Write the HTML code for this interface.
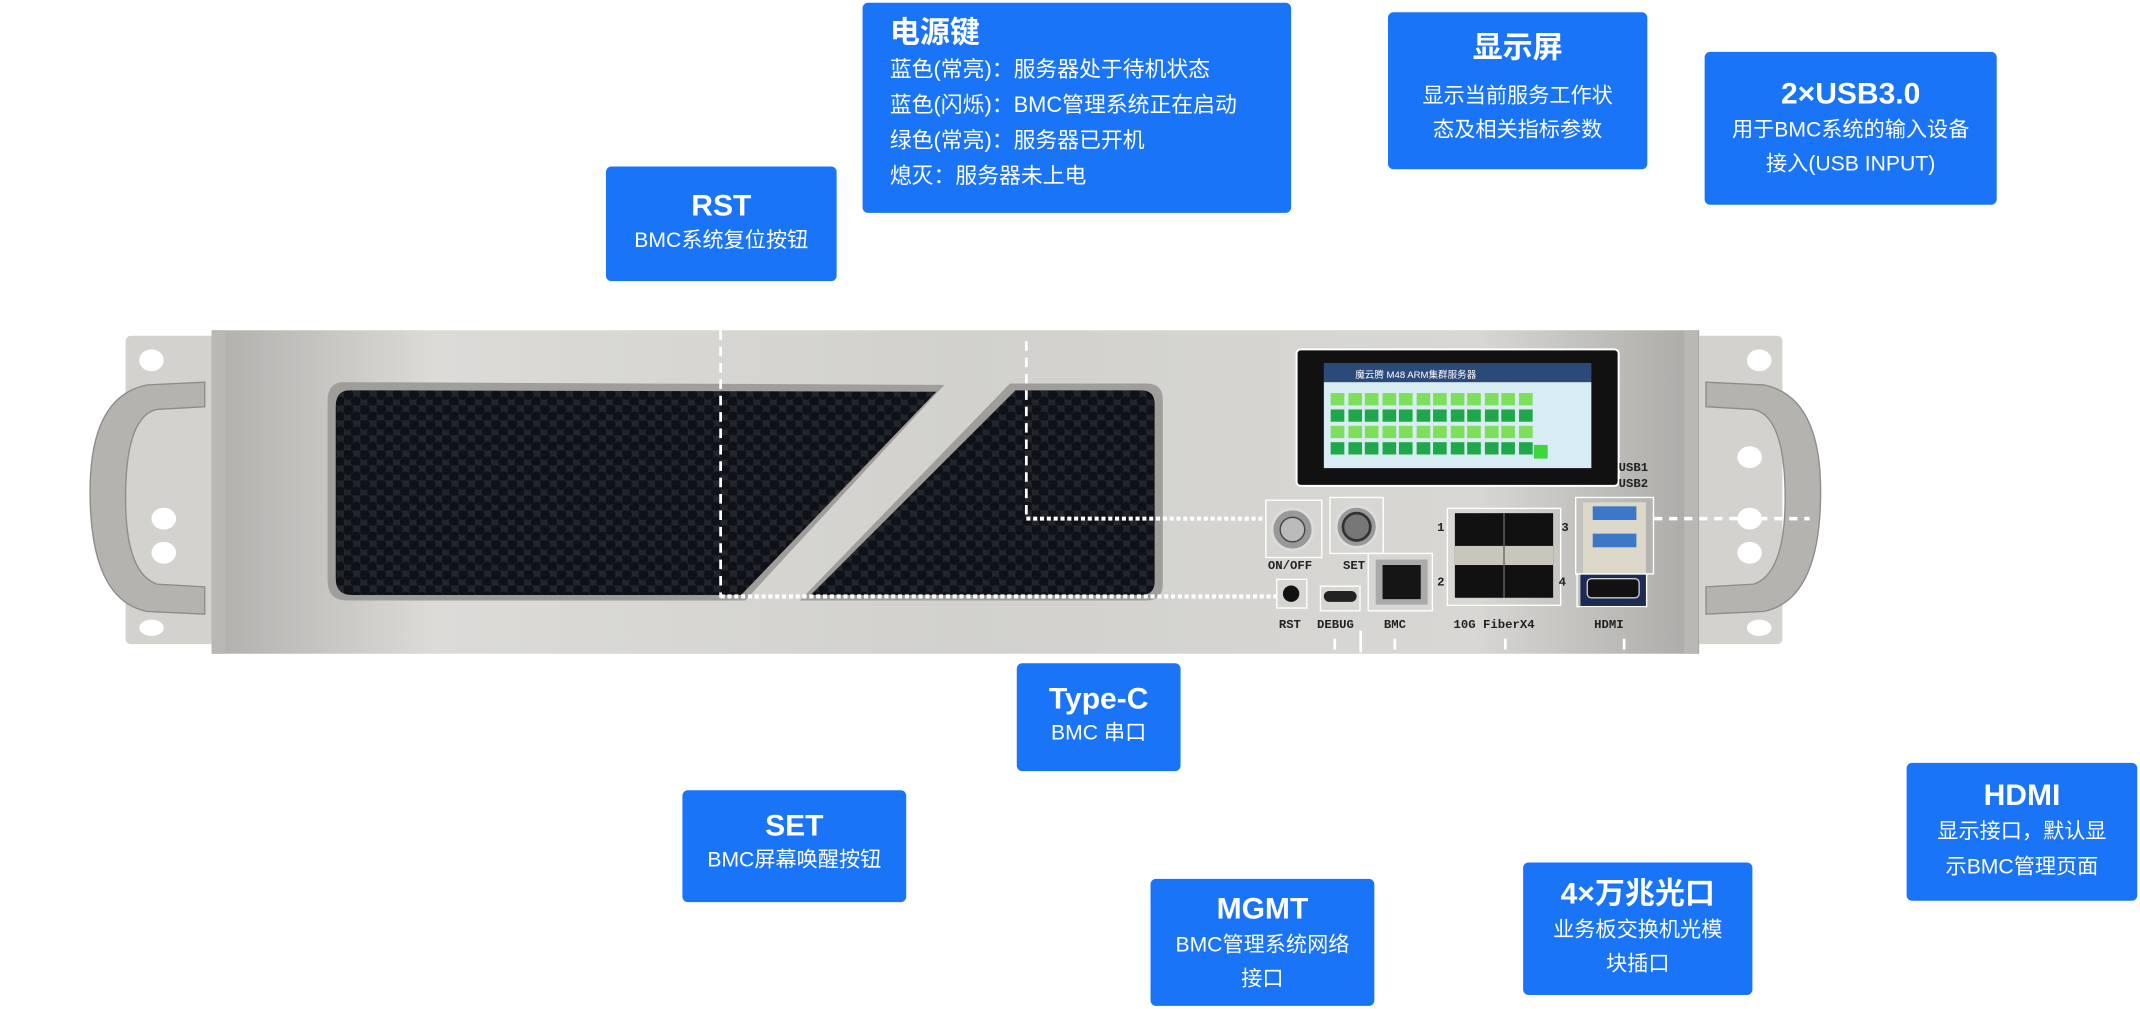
<!DOCTYPE html>
<html><head><meta charset="utf-8">
<style>
html,body{margin:0;padding:0;background:#fff;overflow:hidden;}
#root{position:absolute;left:0;top:0;width:1568px;height:739px;transform:scale(1.3648);transform-origin:0 0;font-family:"Liberation Sans","Noto Sans CJK SC",sans-serif;}
.b{position:absolute;background:#1a74f7;border-radius:4px;color:#fff;text-align:center;box-sizing:border-box;}
.b .t{font-weight:bold;font-size:22px;line-height:28px;}
.b .s{font-size:15.5px;line-height:23px;}
.a{position:absolute;}
.lbl{position:absolute;font-size:9px;color:#222;font-weight:bold;font-family:"Liberation Mono",monospace;}
.wb{position:absolute;border:1.5px solid #fff;box-sizing:border-box;}
</style></head><body><div id="root">

<svg class="a" style="left:0;top:0" width="1568" height="739">
<defs>
<linearGradient id="met" x1="0" x2="1" y1="0" y2="0">
<stop offset="0" stop-color="#b0afac"/><stop offset="0.15" stop-color="#dcdbd8"/><stop offset="0.5" stop-color="#d2d1cd"/><stop offset="0.85" stop-color="#d8d7d3"/><stop offset="1" stop-color="#abaaa7"/></linearGradient>
<pattern id="hex" width="12" height="11" patternUnits="userSpaceOnUse">
<rect width="12" height="11" fill="#22252c"/><circle cx="3" cy="3" r="4" fill="#0f1118"/><circle cx="9" cy="8.5" r="4" fill="#0f1118"/></pattern>
</defs>
<rect x="92" y="246" width="68" height="226" rx="4" fill="#d3d2cf"/>
<rect x="1238" y="246" width="68" height="226" rx="4" fill="#d3d2cf"/>
<ellipse cx="111" cy="264" rx="9" ry="8" fill="#fff"/><ellipse cx="1289" cy="264" rx="9" ry="8" fill="#fff"/>
<ellipse cx="111" cy="460" rx="9" ry="6" fill="#fff"/><ellipse cx="1289" cy="460" rx="9" ry="6" fill="#fff"/>
<rect x="155" y="242" width="1090" height="237" fill="url(#met)"/>
<rect x="155" y="242" width="10" height="237" fill="#b9b8b5"/>
<rect x="1234" y="242" width="10" height="237" fill="#b9b8b5"/>
<path d="M150 280 L108 282 Q66 290 66 360 Q66 440 108 448 L150 450 L150 430 L115 428 Q92 420 92 365 Q92 305 115 300 L150 298 Z" fill="#b4b3b0" stroke="#8d8c89"/>
<path d="M1250 280 L1292 282 Q1334 290 1334 360 Q1334 440 1292 448 L1250 450 L1250 430 L1285 428 Q1308 420 1308 365 Q1308 305 1285 300 L1250 298 Z" fill="#b4b3b0" stroke="#8d8c89"/>
<ellipse cx="120" cy="380" rx="9" ry="8" fill="#fff"/><ellipse cx="120" cy="405" rx="9" ry="8" fill="#fff"/>
<ellipse cx="1282" cy="335" rx="9" ry="8" fill="#fff"/><ellipse cx="1282" cy="380" rx="9" ry="8" fill="#fff"/><ellipse cx="1282" cy="405" rx="9" ry="8" fill="#fff"/>
<path d="M252 280 L692 282 L546 440 L254 440 Q240 440 240 425 L240 294 Q240 280 252 280Z" fill="#9f9e9b"/>
<path d="M256 286 L686 287 L543 436 L258 436 Q246 436 246 424 L246 298 Q246 286 256 286Z" fill="url(#hex)"/>
<path d="M740 281 L840 281 Q852 281 852 293 L852 428 Q852 440 840 440 L586 440 Z" fill="#9f9e9b"/>
<path d="M744 286 L836 286 Q846 286 846 296 L846 426 Q846 436 836 436 L594 436 Z" fill="url(#hex)"/>
<rect x="950" y="256" width="236" height="100" rx="3" fill="#111" stroke="#fff" stroke-width="1.5"/>
<rect x="970" y="266" width="196" height="14" fill="#2b4a7a"/>
<rect x="970" y="280" width="196" height="63" fill="#d8ecf4"/>
<g stroke="#fff" stroke-width="2" fill="none">
<path d="M528 242 V438" stroke-dasharray="7 5"/>
<path d="M752 250 V380" stroke-dasharray="7 5"/>
<path d="M528 437 H935" stroke-dasharray="3 2" stroke-width="3"/>
<path d="M752 380 H925" stroke-dasharray="3 2" stroke-width="3"/>
<path d="M1212 380 H1326" stroke-dasharray="6 5" stroke-width="2.5"/>
<path d="M978 468 V476 M997 462 V478 M1022 468 V476 M1103 468 V476 M1190 468 V476"/>
</g>
<circle cx="947" cy="388" r="15" fill="#999" stroke="#ddd" stroke-width="2"/><circle cx="947" cy="388" r="9" fill="#bbb" stroke="#444"/>
<circle cx="994" cy="386" r="15" fill="#999" stroke="#ddd" stroke-width="2"/><circle cx="994" cy="386" r="10" fill="#777" stroke="#333" stroke-width="2"/>
<circle cx="946" cy="435" r="6" fill="#111"/>
<rect x="970" y="433" width="24" height="8" rx="4" fill="#222"/>
<rect x="1008" y="410" width="38" height="33" fill="#aaa"/><rect x="1013" y="414" width="28" height="25" fill="#151515"/>
<rect x="1066" y="376" width="72" height="62" fill="#111"/><rect x="1066" y="400" width="72" height="14" fill="#c9c6bb"/><path d="M1102 376 V438" stroke="#666"/>
<rect x="1160" y="368" width="46" height="52" fill="#dcd8ca"/><rect x="1167" y="371" width="32" height="10" fill="#3d78c8"/><rect x="1167" y="391" width="32" height="10" fill="#3d78c8"/>
<rect x="1158" y="420" width="48" height="25" fill="#1c2b55"/><rect x="1163" y="424" width="38" height="14" rx="3" fill="#111" stroke="#ccc"/>
</svg>

<div class="wb" style="left:927px;top:366px;width:42px;height:43px"></div>
<div class="wb" style="left:974px;top:364px;width:40px;height:42px"></div>
<div class="wb" style="left:935px;top:424px;width:23px;height:22px"></div>
<div class="wb" style="left:967px;top:429px;width:30px;height:19px"></div>
<div class="wb" style="left:1002px;top:405px;width:48px;height:43px"></div>
<div class="wb" style="left:1060px;top:372px;width:84px;height:72px"></div>
<div class="wb" style="left:1154px;top:364px;width:58px;height:57px"></div>
<div class="wb" style="left:1155px;top:420px;width:52px;height:25px"></div>
<div class="lbl" style="left:929px;top:410px">ON/OFF</div>
<div class="lbl" style="left:984px;top:410px">SET</div>
<div class="lbl" style="left:937px;top:453px">RST</div>
<div class="lbl" style="left:965px;top:453px">DEBUG</div>
<div class="lbl" style="left:1014px;top:453px">BMC</div>
<div class="lbl" style="left:1065px;top:453px">10G FiberX4</div>
<div class="lbl" style="left:1168px;top:453px">HDMI</div>
<div class="lbl" style="left:1186px;top:337px;line-height:12px">USB1<br>USB2</div>
<div class="lbl" style="left:1053px;top:382px">1</div><div class="lbl" style="left:1053px;top:422px">2</div>
<div class="lbl" style="left:1144px;top:382px">3</div><div class="lbl" style="left:1142px;top:422px">4</div>

<div class="b" style="left:632px;top:2px;width:314px;height:154px;text-align:left;padding:7px 0 0 20px"><div class="t" style="font-size:22px;line-height:30px">电源键</div><div class="s" style="font-size:16px;line-height:26px">蓝色(常亮)：服务器处于待机状态<br>蓝色(闪烁)：BMC管理系统正在启动<br>绿色(常亮)：服务器已开机<br>熄灭：服务器未上电</div></div>
<div class="b" style="left:444px;top:122px;width:169px;height:84px;padding-top:15px"><div class="t">RST</div><div class="s">BMC系统复位按钮</div></div>
<div class="b" style="left:1017px;top:9px;width:190px;height:115px;padding-top:12px"><div class="t">显示屏</div><div class="s" style="margin-top:9px;line-height:25px">显示当前服务工作状<br>态及相关指标参数</div></div>
<div class="b" style="left:1249px;top:38px;width:214px;height:112px;padding-top:17px"><div class="t">2×USB3.0</div><div class="s" style="line-height:25px">用于BMC系统的输入设备<br>接入(USB INPUT)</div></div>
<div class="b" style="left:745px;top:486px;width:120px;height:79px;padding-top:12px"><div class="t">Type-C</div><div class="s">BMC 串口</div></div>
<div class="b" style="left:500px;top:579px;width:164px;height:82px;padding-top:12px"><div class="t">SET</div><div class="s">BMC屏幕唤醒按钮</div></div>
<div class="b" style="left:843px;top:644px;width:164px;height:93px;padding-top:8px"><div class="t">MGMT</div><div class="s" style="line-height:25px">BMC管理系统网络<br>接口</div></div>
<div class="b" style="left:1116px;top:632px;width:168px;height:97px;padding-top:9px"><div class="t">4×万兆光口</div><div class="s" style="line-height:25px">业务板交换机光模<br>块插口</div></div>
<div class="b" style="left:1397px;top:559px;width:169px;height:101px;padding-top:10px"><div class="t">HDMI</div><div class="s" style="line-height:26px">显示接口，默认显<br>示BMC管理页面</div></div>

<div class="a" style="left:993px;top:270px;font-size:7px;color:#fff">魔云腾 M48 ARM集群服务器</div>
<div class="a" style="left:975px;top:288px;width:150px;display:grid;grid-template-columns:repeat(12,10px);gap:3px 2.5px">
<i style="height:9px;background:#7ee05a"></i><i style="height:9px;background:#7ee05a"></i><i style="height:9px;background:#7ee05a"></i><i style="height:9px;background:#7ee05a"></i><i style="height:9px;background:#7ee05a"></i><i style="height:9px;background:#7ee05a"></i><i style="height:9px;background:#7ee05a"></i><i style="height:9px;background:#7ee05a"></i><i style="height:9px;background:#7ee05a"></i><i style="height:9px;background:#7ee05a"></i><i style="height:9px;background:#7ee05a"></i><i style="height:9px;background:#7ee05a"></i>
<i style="height:9px;background:#1fa84a"></i><i style="height:9px;background:#1fa84a"></i><i style="height:9px;background:#1fa84a"></i><i style="height:9px;background:#1fa84a"></i><i style="height:9px;background:#1fa84a"></i><i style="height:9px;background:#1fa84a"></i><i style="height:9px;background:#1fa84a"></i><i style="height:9px;background:#1fa84a"></i><i style="height:9px;background:#1fa84a"></i><i style="height:9px;background:#1fa84a"></i><i style="height:9px;background:#1fa84a"></i><i style="height:9px;background:#1fa84a"></i>
<i style="height:9px;background:#7ee05a"></i><i style="height:9px;background:#7ee05a"></i><i style="height:9px;background:#7ee05a"></i><i style="height:9px;background:#7ee05a"></i><i style="height:9px;background:#7ee05a"></i><i style="height:9px;background:#7ee05a"></i><i style="height:9px;background:#7ee05a"></i><i style="height:9px;background:#7ee05a"></i><i style="height:9px;background:#7ee05a"></i><i style="height:9px;background:#7ee05a"></i><i style="height:9px;background:#7ee05a"></i><i style="height:9px;background:#7ee05a"></i>
<i style="height:9px;background:#1fa84a"></i><i style="height:9px;background:#1fa84a"></i><i style="height:9px;background:#1fa84a"></i><i style="height:9px;background:#1fa84a"></i><i style="height:9px;background:#1fa84a"></i><i style="height:9px;background:#1fa84a"></i><i style="height:9px;background:#1fa84a"></i><i style="height:9px;background:#1fa84a"></i><i style="height:9px;background:#1fa84a"></i><i style="height:9px;background:#1fa84a"></i><i style="height:9px;background:#1fa84a"></i><i style="height:9px;background:#1fa84a"></i>
</div>
<div class="a" style="left:1124px;top:326px;width:10px;height:10px;background:#3ed63a"></div>
</div></body></html>
